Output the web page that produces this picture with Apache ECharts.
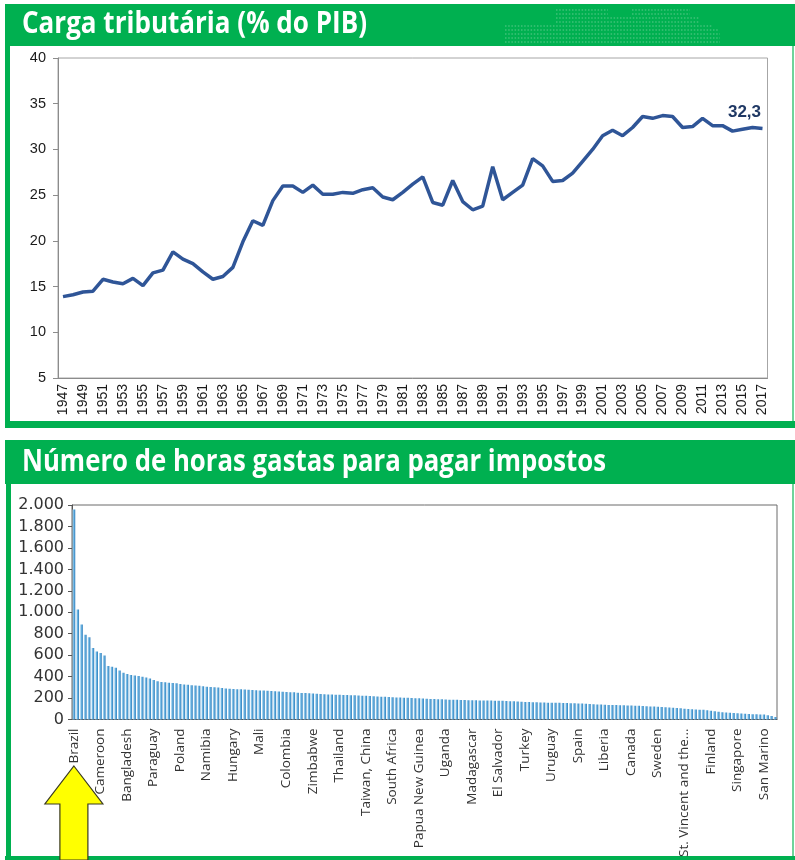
<!DOCTYPE html>
<html><head><meta charset="utf-8">
<script src="https://cdn.jsdelivr.net/npm/echarts@6/dist/echarts.min.js"></script>
<style>html,body{margin:0;padding:0;background:#fff}#c{width:795px;height:860px}</style>
</head><body><div id="c"></div>
<script>
const title1 = 'Carga tributária (% do PIB)';
const title2 = 'Número de horas gastas para pagar impostos';

const years = ['1947','1948','1949','1950','1951','1952','1953','1954','1955','1956',
  '1957','1958','1959','1960','1961','1962','1963','1964','1965','1966',
  '1967','1968','1969','1970','1971','1972','1973','1974','1975','1976',
  '1977','1978','1979','1980','1981','1982','1983','1984','1985','1986',
  '1987','1988','1989','1990','1991','1992','1993','1994','1995','1996',
  '1997','1998','1999','2000','2001','2002','2003','2004','2005','2006',
  '2007','2008','2009','2010','2011','2012','2013','2014','2015','2016','2017'];

const taxBurden = [13.9,14.1,14.4,14.5,15.8,15.5,15.3,15.9,15.1,16.5,
  16.8,18.8,18.0,17.5,16.6,15.8,16.1,17.1,19.9,22.2,
  21.7,24.4,26.0,26.0,25.3,26.1,25.1,25.1,25.3,25.2,
  25.6,25.8,24.8,24.5,25.3,26.2,27.0,24.2,23.9,26.6,
  24.3,23.4,23.8,28.1,24.5,25.3,26.1,29.0,28.2,26.5,
  26.6,27.4,28.7,30.0,31.5,32.1,31.5,32.4,33.6,33.4,
  33.7,33.6,32.4,32.5,33.4,32.6,32.6,32.0,32.2,32.4,32.3];

const countryLabels = ['Brazil','Cameroon','Bangladesh','Paraguay','Poland','Namibia','Hungary','Mali',
  'Colombia','Zimbabwe','Thailand','Taiwan, China','South Africa','Papua New Guinea','Uganda',
  'Madagascar','El Salvador','Turkey','Uruguay','Spain','Liberia','Canada','Sweden',
  'St. Vincent and the...','Finland','Singapore','San Marino'];

const hours = [1958,1025,885,790,768,666,633,620,597,498,
  492,483,456,435,425,416,410,406,398,392,
  383,368,356,350,347,342,340,338,332,327,
  325,320,317,314,309,305,302,300,298,293,
  290,287,285,283,281,279,277,275,273,271,
  270,268,266,263,261,259,257,255,253,250,
  248,246,244,242,240,238,236,234,232,231,
  230,229,228,227,225,224,222,221,219,217,
  215,213,211,209,207,206,205,203,202,200,
  199,197,196,194,192,190,189,188,186,185,
  184,183,182,181,180,180,179,178,177,176,
  176,175,175,174,173,171,169,167,165,163,
  162,161,160,159,158,157,156,155,155,154,
  153,152,151,150,148,146,144,142,140,139,
  137,136,135,134,133,132,131,130,129,127,
  126,124,122,120,118,116,114,112,110,108,
  104,101,98,96,94,92,90,86,82,78,
  73,68,65,62,60,58,56,54,52,50,
  48,47,46,40,32,24];

const labelStep = 7;
const countryCats = hours.map((v, i) => (i % labelStep === 0 && countryLabels[i / labelStep]) ? countryLabels[i / labelStep] : '\u200b' + i);
const labelSet = new Set(countryLabels);

const GREEN = '#00b050';
const chart = echarts.init(document.getElementById('c'), null, {width: 795, height: 860});

function fitScale(text, font, target) {
  const ctx = document.createElement('canvas').getContext('2d');
  ctx.font = font;
  return target / ctx.measureText(text).width;
}
const s1 = fitScale(title1, 'bold 30px "Open Sans"', 345);
const s2 = fitScale(title2, 'bold 30px "Open Sans"', 584);

function thousands(v) {
  return v >= 1000 ? Math.floor(v / 1000) + '.' + String(v % 1000).padStart(3, '0') : String(v);
}

const lineData = taxBurden.map((v, i) => i === taxBurden.length - 1 ? {
  value: v,
  label: {show: true, position: 'top', offset: [-18, -3], formatter: p => String(p.value).replace('.', ','),
    fontSize: 17, fontWeight: 'bold', color: '#1f3864', fontFamily: 'Liberation Sans'}
} : v);

const barGrad = new echarts.graphic.LinearGradient(0, 0, 1, 0, [
  {offset: 0, color: '#c3e3f7'}, {offset: 0.45, color: '#66b1e0'}, {offset: 1, color: '#2f7cba'}]);

function dots(y, x1, x2) {
  return {type: 'line', silent: true, z: 1, shape: {x1: x1, y1: y, x2: x2, y2: y},
    style: {stroke: '#3fc178', lineWidth: 1.5, lineDash: [1.5, 1.7]}};
}

const baseGraphics = [
  {type: 'rect', silent: true, shape: {x: 5, y: 4, width: 790, height: 42}, style: {fill: GREEN}},
  {type: 'rect', silent: true, shape: {x: 5, y: 46, width: 5, height: 382}, style: {fill: GREEN}},
  {type: 'rect', silent: true, shape: {x: 5, y: 421, width: 790, height: 7}, style: {fill: GREEN}},
  {type: 'rect', silent: true, shape: {x: 792, y: 46, width: 2, height: 375}, style: {fill: '#6fd39a'}},
  {type: 'rect', silent: true, shape: {x: 5, y: 440, width: 790, height: 44}, style: {fill: GREEN}},
  {type: 'rect', silent: true, shape: {x: 6, y: 484, width: 5, height: 376}, style: {fill: GREEN}},
  {type: 'rect', silent: true, shape: {x: 5, y: 856, width: 790, height: 4}, style: {fill: GREEN}},
  {type: 'rect', silent: true, shape: {x: 792, y: 484, width: 2, height: 372}, style: {fill: '#6fd39a'}},
  dots(10, 556, 608), dots(14, 556, 608), dots(10, 632, 690), dots(14, 632, 690),
  dots(18, 556, 700), dots(22, 556, 700), dots(26, 505, 712), dots(30, 505, 718),
  dots(34, 505, 720), dots(38, 505, 720), dots(42, 505, 720),
  {type: 'text', silent: true, z: 5, x: 22, y: 24, scaleX: s1,
    style: {text: title1, fill: '#ffffff', fontSize: 30, fontWeight: 'bold', fontFamily: 'Open Sans', verticalAlign: 'middle'}},
  {type: 'text', silent: true, z: 5, x: 22, y: 462, scaleX: s2,
    style: {text: title2, fill: '#ffffff', fontSize: 30, fontWeight: 'bold', fontFamily: 'Open Sans', verticalAlign: 'middle'}}
];

const option = {
  animation: false,
  backgroundColor: '#ffffff',
  grid: [
    {left: 58, top: 58, width: 709.5, height: 320, show: true, borderColor: '#a6a6a6', borderWidth: 1},
    {left: 72, top: 505, width: 705, height: 221, show: true, borderColor: '#6a6a6a', borderWidth: 1}
  ],
  xAxis: [
    {type: 'category', gridIndex: 0, data: years, boundaryGap: true,
      axisLine: {lineStyle: {color: '#8c8c8c'}},
      axisTick: {interval: 0, length: 5, lineStyle: {color: '#8c8c8c'}},
      axisLabel: {interval: 1, rotate: 90, fontSize: 14, color: '#1a1a1a', fontFamily: 'Liberation Sans', margin: 6}},
    {type: 'category', gridIndex: 1, data: countryCats, boundaryGap: true,
      axisLine: {lineStyle: {color: '#555555'}},
      axisTick: {interval: 0, length: 4, lineStyle: {color: '#555555'}},
      axisLabel: {interval: labelStep - 1, rotate: 90, fontSize: 13.5, color: '#333333', fontFamily: 'Open Sans', margin: 9,
        formatter: v => labelSet.has(v) ? v : ''}}
  ],
  yAxis: [
    {type: 'value', gridIndex: 0, min: 5, max: 40, interval: 5,
      axisLine: {show: true, lineStyle: {color: '#8c8c8c'}},
      axisTick: {show: true, length: 5, lineStyle: {color: '#8c8c8c'}},
      splitLine: {show: false},
      axisLabel: {fontSize: 14.5, color: '#1a1a1a', fontFamily: 'Liberation Sans', margin: 12}},
    {type: 'value', gridIndex: 1, min: 0, max: 2000, interval: 200,
      axisLine: {show: true, lineStyle: {color: '#555555'}},
      axisTick: {show: true, length: 4, lineStyle: {color: '#555555'}},
      splitLine: {show: false},
      axisLabel: {fontSize: 16, color: '#333333', fontFamily: 'DejaVu Sans', margin: 8, formatter: thousands}}
  ],
  series: [
    {type: 'line', xAxisIndex: 0, yAxisIndex: 0, data: lineData, symbol: 'circle', symbolSize: 0, showSymbol: true,
      color: '#2f5597', lineStyle: {color: '#2f5597', width: 3.5}, z: 3},
    {type: 'bar', xAxisIndex: 1, yAxisIndex: 1, data: hours, barCategoryGap: '28%',
      itemStyle: {color: barGrad}}
  ],
  graphic: baseGraphics
};
chart.setOption(option);

// yellow arrow annotation pointing at the first (Brazil) category
const ax = chart.convertToPixel({xAxisIndex: 1}, countryCats[0]);
const arrow = {type: 'polygon', silent: true, z: 10,
  shape: {points: [[ax, 766], [ax + 29, 804], [ax + 14, 804], [ax + 14, 860], [ax - 14, 860], [ax - 14, 804], [ax - 29, 804]]},
  style: {fill: '#ffff00', stroke: '#3a3a20', lineWidth: 1.2}};
chart.setOption({graphic: baseGraphics.concat([arrow])}, {replaceMerge: ['graphic']});
</script>
</body></html>
